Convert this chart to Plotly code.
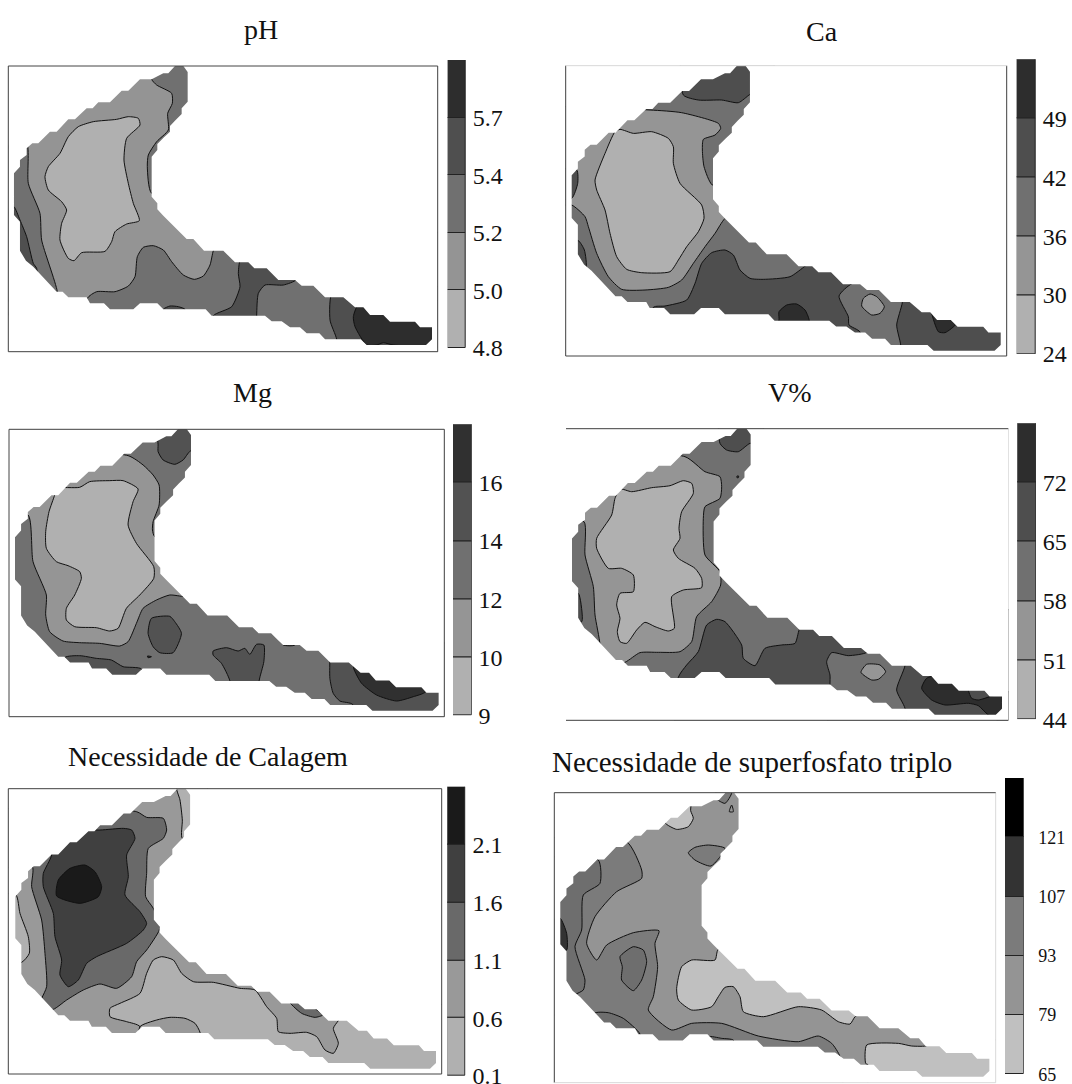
import plotly.graph_objects as go

# ---------- shared field outline (map units) ----------
FIELD_OUTLINE = [(525,48),(550,48),(563,66),(563,155),(545,175),(545,192),(527,210),(510,228),(510,245),(492,262),(472,282),(472,300),(455,320),(455,440),(472,460),(472,478),(490,497),(560,567),(580,567),(612,602),(670,602),(705,637),(745,637),(763,655),(800,655),(835,690),(885,690),(905,707),(940,707),(975,742),(1030,742),(1065,772),(1090,772),(1110,795),(1150,795),(1170,815),(1245,815),(1260,832),(1296,832),(1296,868),(1278,885),(1100,885),(1082,868),(975,868),(958,850),(920,850),(900,832),(870,832),(845,814),(815,814),(795,797),(635,797),(617,778),(490,778),(472,760),(420,760),(400,778),(330,778),(312,760),(270,760),(260,742),(205,742),(188,725),(170,725),(100,650),(78,632),(60,602),(60,515),(42,495),(42,370),(60,350),(60,330),(80,315),(80,295),(97,280),(115,280),(150,245),(170,245),(205,208),(225,208),(260,175),(278,175),(295,157),(330,157),(365,122),(385,122),(420,88),(455,88),(490,70),(505,70)]
OUTLINE_EXTENT = (42,1296,48,885)

# ---------- pH ----------
PH_TITLE = "pH"
PH_TICKS = ["4.8","5.0","5.2","5.4","5.7"]
PH_GREYS = ["#b0b0b0","#949494","#707070","#4f4f4f","#2d2d2d"]
PH_BASE = 1
PH_REGIONS = [
 (2,[(80,280),(85,400),(120,490),(125,570),(172,725),(172,800),(30,800),(30,280)]),
 (3,[(30,470),(42,470),(60,510),(80,560),(100,640),(110,655),(110,760),(30,760)]),
 (2,[(455,88),(470,105),(515,130),(517,160),(503,190),(505,240),(470,275),(445,315),(442,350),(455,430),(600,430),(600,30),(455,30)]),
 (0,[(415,205),(385,200),(350,208),(280,215),(235,230),(205,260),(180,310),(145,350),(135,380),(145,420),(185,455),(200,480),(185,520),(180,570),(205,625),(222,632),(245,608),(315,604),(335,575),(345,545),(380,522),(418,512),(400,460),(385,400),(372,330),(380,265),(420,225)]),
 (2,[(262,745),(290,725),(345,725),(385,708),(405,680),(412,620),(430,592),(460,587),(490,600),(515,635),(550,675),(583,688),(610,678),(630,645),(640,602),(660,560),(1340,560),(1340,950),(262,950)]),
 (3,[(725,620),(715,670),(720,710),(695,770),(640,797),(640,840),(770,840),(770,795),(775,730),(795,705),(850,705),(890,688),(890,620)]),
 (3,[(1000,720),(990,810),(1010,868),(1010,950),(1340,950),(1340,720)]),
 (4,[(1078,760),(1060,800),(1065,830),(1100,885),(1130,885),(1150,878),(1180,885),(1340,885),(1340,760)]),
 (3,[(490,778),(510,768),(535,770),(555,778),(540,800),(500,800)]),
]

# ---------- Ca ----------
CA_TITLE = "Ca"
CA_TICKS = ["24","30","36","42","49"]
CA_GREYS = ["#b0b0b0","#959595","#707070","#4e4e4e","#2d2d2d"]
CA_BASE = 2
CA_REGIONS = [
 (3,[(385,135),(430,150),(500,150),(550,158),(585,133),(650,100),(650,0),(385,0)]),
 (1,[(285,180),(380,188),(490,220),(497,235),(480,255),(445,268),(442,300),(447,350),(472,405),(560,405),(560,480),(510,505),(480,550),(450,590),(415,640),(380,690),(340,712),(270,720),(200,718),(160,680),(125,610),(100,530),(90,500),(50,465),(0,465),(0,180)]),
 (0,[(195,238),(235,250),(290,245),(340,265),(355,290),(355,340),(375,400),(440,465),(447,505),(430,545),(395,590),(370,630),(345,665),(260,668),(215,658),(185,620),(165,550),(150,480),(125,420),(120,390),(150,310),(180,245)]),
 (3,[(295,772),(330,768),(395,750),(420,700),(440,640),(470,608),(510,600),(535,615),(555,660),(585,685),(625,688),(705,680),(752,647),(790,620),(1400,620),(1400,950),(295,950)]),
 (2,[(893,700),(852,738),(880,800),(882,825),(915,846),(915,950),(1037,950),(1037,885),(1025,825),(1042,757),(1042,700)]),
 (1,[(945,732),(925,745),(920,768),(950,795),(975,790),(988,770),(965,740)]),
 (4,[(672,805),(672,785),(695,765),(725,762),(750,780),(762,808),(762,840),(672,840)]),
 (4,[(1130,790),(1150,845),(1170,848),(1205,820),(1205,780),(1130,780)]),
 (3,[(70,572),(88,600),(92,655),(40,655),(40,572)]),
 (3,[(65,360),(68,400),(50,445),(0,445),(0,360)]),
]

# ---------- Mg ----------
MG_TITLE = "Mg"
MG_TICKS = ["9","10","12","14","16"]
MG_GREYS = ["#b0b0b0","#959595","#707070","#525252","#303030"]
MG_BASE = 2
MG_REGIONS = [
 (3,[(475,90),(475,110),(490,135),(525,148),(550,135),(572,108),(620,108),(620,0),(475,0)]),
 (1,[(385,122),(430,150),(460,180),(478,210),(478,270),(460,320),(458,345),(465,365),(600,365),(600,545),(555,545),(510,540),(470,555),(430,580),(410,625),(385,680),(360,693),(300,685),(240,683),(190,678),(150,650),(138,600),(140,540),(100,440),(85,300),(0,300),(0,122)]),
 (0,[(170,220),(240,217),(270,200),(330,197),(370,197),(415,222),(400,260),(385,330),(410,385),(462,455),(462,490),(420,540),(380,580),(355,640),(330,648),(290,638),(225,635),(200,615),(200,580),(225,540),(245,490),(240,470),(205,452),(170,440),(140,400),(138,350),(148,290),(165,240)]),
 (3,[(195,728),(240,722),(290,730),(335,735),(370,755),(425,762),(410,850),(195,850)]),
 (3,[(455,610),(510,604),(525,620),(545,655),(520,713),(480,713),(460,695),(445,655)]),
 (3,[(640,708),(680,698),(715,708),(735,700),(750,718),(770,688),(792,690),(792,740),(778,797),(778,840),(690,840),(690,797),(665,745),(640,720)]),
 (3,[(835,670),(850,690),(885,690),(885,650),(835,650)]),
 (3,[(990,725),(990,790),(1000,835),(1020,858),(1058,868),(1058,950),(1400,950),(1400,700),(990,700)]),
 (4,[(1062,762),(1085,805),(1130,840),(1190,858),(1240,845),(1277,830),(1277,750),(1062,750)]),
 (4,[(443,723),(455,725),(445,728)]),
]

# ---------- V% ----------
V_TITLE = "V%"
V_TICKS = ["44","51","58","65","72"]
V_GREYS = ["#b0b0b0","#959595","#707070","#4e4e4e","#2d2d2d"]
V_BASE = 2
V_REGIONS = [
 (3,[(495,85),(515,105),(550,110),(585,85),(620,85),(620,0),(495,0)]),
 (1,[(390,125),(450,170),(495,185),(500,215),(495,250),(450,275),(445,310),(450,420),(495,470),(497,510),(470,560),(425,605),(410,680),(375,710),(310,712),(255,713),(210,742),(130,760),(135,690),(120,600),(115,515),(90,420),(87,320),(0,320),(0,125)]),
 (0,[(195,222),(230,230),(290,218),(345,212),(385,197),(410,205),(415,235),(380,290),(372,340),(375,370),(355,405),(370,430),(420,460),(440,490),(440,518),(385,525),(350,545),(358,640),(340,648),(300,635),(270,622),(245,645),(215,685),(195,680),(187,650),(195,610),(185,570),(195,535),(235,530),(235,480),(200,460),(160,460),(125,400),(125,370),(170,300),(180,250)]),
 (3,[(370,787),(395,750),(430,710),(455,630),(485,613),(510,620),(560,690),(565,730),(600,752),(630,700),(680,690),(720,685),(733,643),(760,600),(1400,600),(1400,950),(370,950)]),
 (2,[(825,808),(825,780),(815,740),(830,713),(880,722),(935,712),(935,690),(1050,690),(1050,752),(1025,825),(1050,880),(1050,950),(825,950)]),
 (1,[(935,748),(975,750),(992,770),(970,793),(950,795),(918,772)]),
 (4,[(1115,790),(1150,780),(1240,800),(1240,825),(1250,850),(1270,855),(1312,843),(1380,830),(1380,940),(1300,900),(1270,872),(1240,865),(1170,870),(1130,855),(1100,820)]),
 (3,[(70,535),(82,605),(80,620),(40,620),(40,535)]),
 (3,[(546,183),(551,183),(550,188),(546,188)]),
]

# ---------- Necessidade de Calagem ----------
NC_TITLE = "Necessidade de Calagem"
NC_TICKS = ["0.1","0.6","1.1","1.6","2.1"]
NC_GREYS = ["#b0b0b0","#999999","#696969","#404040","#1a1a1a"]
NC_BASE = 1
NC_REGIONS = [
 (0,[(530,20),(540,60),(547,120),(547,175),(620,175),(620,20)]),
 (2,[(410,95),(440,112),(490,115),(500,150),(490,175),(445,205),(440,280),(437,350),(460,385),(478,430),(478,450),(440,510),(410,545),(395,590),(350,625),(300,612),(250,630),(200,660),(160,688),(110,690),(125,655),(140,620),(135,520),(125,420),(95,320),(97,260),(0,260),(0,95)]),
 (3,[(155,225),(130,280),(130,320),(160,400),(165,470),(185,540),(180,585),(205,620),(235,600),(260,550),(290,530),(380,490),(430,450),(440,430),(420,395),(375,345),(385,290),(380,225),(405,175),(395,150),(370,145),(300,150),(150,150)]),
 (4,[(210,265),(255,255),(285,275),(305,320),(295,350),(240,370),(170,348),(175,300)]),
 (0,[(48,345),(60,400),(85,470),(88,520),(65,547),(0,547),(0,345)]),
 (0,[(420,740),(380,725),(330,710),(330,685),(360,670),(420,640),(440,580),(460,540),(485,530),(520,540),(545,580),(580,605),(640,607),(720,625),(765,630),(800,680),(830,715),(835,755),(870,760),(920,757),(950,770),(975,810),(1000,820),(1015,790),(1000,745),(1015,722),(1040,690),(1400,690),(1400,950),(420,950)]),
 (1,[(420,740),(470,720),(510,712),(555,715),(585,730),(600,757),(600,800),(420,800)]),
 (2,[(870,668),(905,700),(945,712),(968,705),(945,685),(930,660),(870,660)]),
]

# ---------- Necessidade de superfosfato triplo ----------
SF_TITLE = "Necessidade de superfosfato triplo"
SF_TICKS = ["65","79","93","107","121"]
SF_GREYS = ["#c0c0c0","#949494","#7b7b7b","#333333","#000000"]
SF_EXTRA_GREY = "#6e6e6e"
SF_BASE = 1
SF_REGIONS = [
 (2,[(245,185),(290,270),(290,295),(215,335),(150,410),(125,490),(155,540),(185,495),(265,458),(342,452),(330,490),(338,560),(325,650),(310,690),(380,750),(440,730),(530,730),(640,768),(760,785),(820,768),(860,790),(885,830),(885,950),(0,950),(0,185)]),
 (2.5,[(160,240),(165,310),(115,345),(110,450),(90,500),(120,600),(115,630),(90,645),(60,700),(0,700),(0,240)]),
 (2.5,[(225,530),(265,500),(295,510),(305,545),(290,600),(265,632),(230,600),(232,560)]),
 (2.5,[(148,700),(190,698),(235,715),(285,762),(285,800),(148,800)]),
 (3,[(46,415),(65,460),(65,510),(30,510),(30,415)]),
 (2.5,[(490,770),(530,775),(565,780),(565,800),(490,800)]),
 (0,[(360,128),(370,100),(437,70),(437,92),(445,115),(430,140),(395,148)]),
 (2,[(513,55),(540,70),(560,38),(540,20),(513,35)]),
 (2,[(430,218),(450,202),(490,195),(540,205),(498,258),(450,240)]),
 (1,[(560,75),(553,95),(565,95)]),
 (0,[(520,508),(510,540),(440,540),(410,560),(395,625),(400,660),(440,690),(500,680),(520,650),(540,622),(565,620),(585,650),(595,695),(655,710),(760,680),(830,690),(880,725),(915,732),(930,710),(960,690),(700,500)]),
 (0,[(1145,797),(1100,798),(1060,790),(965,795),(962,850),(970,855),(975,950),(1400,950),(1400,790),(1145,790)]),
]

W, H = 1072, 1084
FONT = "Liberation Serif"

DARK, LIGHT = "#444444", "#dddddd"
PANELS = [
 dict(t=PH_TITLE,tk=PH_TICKS,g=PH_GREYS,b=PH_BASE,r=PH_REGIONS,px=(8.3,437.7,66,351.7),fr=(25,1313,48,905),ext=(42,1296,48,885),cb=(447.7,466,60,348),tt=(261,29.5,28),ts=24,tl=1,sides=(DARK,DARK,DARK,DARK)),
 dict(t=CA_TITLE,tk=CA_TICKS,g=CA_GREYS,b=CA_BASE,r=CA_REGIONS,px=(565.7,1006.7,65.7,356),fr=(32,1355,47,918),ext=(50,1337,47,902),cb=(1016.7,1036,59.3,354),tt=(822,31,28),ts=24,tl=1,sides=(DARK,DARK,LIGHT,DARK)),
 dict(t=MG_TITLE,tk=MG_TICKS,g=MG_GREYS,b=MG_BASE,r=MG_REGIONS,px=(9,444.3,429.3,716.7),fr=(28,1333,43,905),ext=(46,1316,42,887),cb=(453,471.7,424.3,715.7),tt=(252,392.5,28),ts=24,tl=1,sides=(DARK,DARK,DARK,DARK)),
 dict(t=V_TITLE,tk=V_TICKS,g=V_GREYS,b=V_BASE,r=V_REGIONS,px=(566,1008.3,428.7,720.3),fr=(33,1360,41,916),ext=(51,1341,40,899),cb=(1017.3,1036,423.3,719.3),tt=(790,392.5,28),ts=24,tl=1,sides=(None,None,DARK,DARK)),
 dict(t=NC_TITLE,tk=NC_TICKS,g=NC_GREYS,b=NC_BASE,r=NC_REGIONS,px=(8.3,441.7,788.7,1074),fr=(25,1325,26,882),ext=(46,1308,26,866),cb=(447.3,465.7,786.7,1076),tt=(208,756,28),ts=24,tl=1,sides=(DARK,DARK,DARK,DARK)),
 dict(t=SF_TITLE,tk=SF_TICKS,g=SF_GREYS,b=SF_BASE,r=SF_REGIONS,px=(554.3,995.7,792.7,1082.7),fr=(28,1352,38,908),ext=(46,1333,38,890),cb=(1005,1023.7,778,1074.3),tt=(752,762,29),ts=18,tl=10,sides=(DARK,LIGHT,DARK,LIGHT)),
]

def area(pts):
    return sum(pts[i][0]*pts[(i+1)%len(pts)][1]-pts[(i+1)%len(pts)][0]*pts[i][1] for i in range(len(pts)))

def grey(p, lv):
    if lv == 2.5:
        return SF_EXTRA_GREY
    return p["g"][int(lv)]

fig = go.Figure()
layout = dict(width=W, height=H, margin=dict(l=0,r=0,t=0,b=0,autoexpand=False), showlegend=False,
              paper_bgcolor="white", plot_bgcolor="white", barmode="overlay", bargap=0,
              font=dict(family=FONT,color="#111111"), annotations=[], shapes=[], hovermode=False)
n = 0
for p in PANELS:
    n += 1
    ax = n if n > 1 else ""
    x0,x1,y0,y1 = p["px"]
    fx0,fx1,fy0,fy1 = p["fr"]
    layout[f"xaxis{ax}"] = dict(domain=[x0/W,x1/W], range=[fx0,fx1], visible=False, anchor=f"y{ax}", automargin=False)
    layout[f"yaxis{ax}"] = dict(domain=[1-y1/H,1-y0/H], range=[fy1,fy0], visible=False, anchor=f"x{ax}", automargin=False)
    xa, ya = f"x{ax}", f"y{ax}"
    rect = [(fx0-20,fy0-20),(fx1+20,fy0-20),(fx1+20,fy1+20),(fx0-20,fy1+20)]
    fig.add_trace(go.Scatter(x=[q[0] for q in rect]+[rect[0][0]], y=[q[1] for q in rect]+[rect[0][1]], fill="toself",
                             fillcolor=grey(p,p["b"]), mode="none", xaxis=xa, yaxis=ya))
    for lv, pts in p["r"]:
        xs = [q[0] for q in pts]+[pts[0][0]]
        ys = [q[1] for q in pts]+[pts[0][1]]
        fig.add_trace(go.Scatter(x=xs,y=ys,fill="toself",fillcolor=grey(p,lv),mode="lines",
                                 line=dict(color="#111111",width=1,shape="spline",smoothing=0.6),xaxis=xa,yaxis=ya))
    ex0,ex1,ey0,ey1 = p["ext"]
    ox0,ox1,oy0,oy1 = OUTLINE_EXTENT
    hole = [(ex0+(a-ox0)*(ex1-ex0)/(ox1-ox0), ey0+(b-oy0)*(ey1-ey0)/(oy1-oy0)) for a,b in FIELD_OUTLINE]
    if area(hole)*area(rect) > 0:
        hole = hole[::-1]
    mx = [q[0] for q in rect]+[rect[0][0],None]+[q[0] for q in hole]+[hole[0][0]]
    my = [q[1] for q in rect]+[rect[0][1],None]+[q[1] for q in hole]+[hole[0][1]]
    fig.add_trace(go.Scatter(x=mx,y=my,fill="toself",fillcolor="white",mode="none",xaxis=xa,yaxis=ya))
    cols = p["sides"]
    segs = [(x0,y0,x0,y1),(x1,y0,x1,y1),(x0,y0,x1,y0),(x0,y1,x1,y1)]
    for c,(a,b,cc,d) in zip(cols,segs):
        if c:
            layout["shapes"].append(dict(type="line",xref="paper",yref="paper",x0=a/W,x1=cc/W,y0=1-b/H,y1=1-d/H,
                                         line=dict(color=c,width=1),layer="above"))
    cx,cy,sz = p["tt"]
    layout["annotations"].append(dict(text=p["t"],x=cx/W,y=1-cy/H,xref="paper",yref="paper",showarrow=False,
                                      xanchor="center",yanchor="middle",font=dict(family=FONT,size=sz,color="#111111")))
    n += 1
    cx0,cx1,cy0,cy1 = p["cb"]
    levels = list(range(len(p["g"])))
    layout[f"xaxis{n}"] = dict(domain=[cx0/W,cx1/W], range=[-0.5,0.5], visible=False, anchor=f"y{n}", automargin=False)
    layout[f"yaxis{n}"] = dict(domain=[1-cy1/H,1-cy0/H], range=[0,len(levels)], side="right", anchor=f"x{n}",
                               tickvals=levels, ticktext=p["tk"], ticks="outside", ticklen=p["tl"], tickcolor="rgba(0,0,0,0)",
                               showgrid=False, zeroline=False, showline=False, automargin=False,
                               ticklabeloverflow="allow",
                               tickfont=dict(family=FONT,size=p["ts"],color="#111111"))
    fig.add_trace(go.Bar(x=[0]*len(levels), y=[1]*len(levels), base=levels, width=1,
                         marker=dict(color=p["g"],line=dict(color="#222222",width=1)),
                         xaxis=f"x{n}", yaxis=f"y{n}"))

fig.update_layout(**layout)
fig.write_html("out.html", config=dict(displayModeBar=False), post_script="document.body.style.margin='0';")
